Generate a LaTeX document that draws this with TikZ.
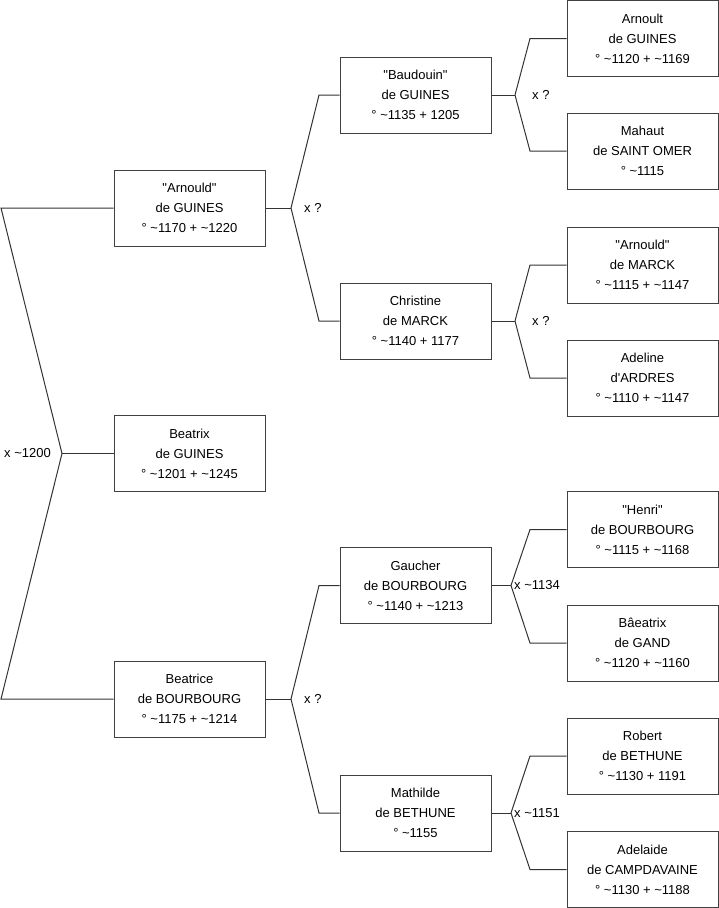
\documentclass[tikz,border=0pt]{standalone}
\usepackage{fontspec}
\setmainfont{Liberation Sans}
\usetikzlibrary{positioning}
\newcommand{\ca}{\textasciitilde}
\newcommand{\qq}[1]{\textquotedbl#1\textquotedbl}
\tikzset{
  person/.style={draw=black!75, line width=1pt, fill=white, minimum width=151pt,
                 minimum height=76pt, align=center, inner sep=0pt,
                 font=\fontsize{13}{20}\selectfont},
  link/.style={draw=black!80, line width=1pt},
  union/.style={inner sep=0pt, font=\fontsize{13}{16}\selectfont}
}
\begin{document}
\begin{tikzpicture}[x=1pt,y=-1pt]
  \useasboundingbox (0,0) rectangle (719,908);
  % Colonne 1
  \node[person] (arnouldG) at (189.5,208) {\qq{Arnould}\\de GUINES\\\textdegree{} \ca1170 + \ca1220};
  \node[person] (beatrix) at (189.5,453.5) {Beatrix\\de GUINES\\\textdegree{} \ca1201 + \ca1245};
  \node[person] (beatrice) at (189.5,699) {Beatrice\\de BOURBOURG\\\textdegree{} \ca1175 + \ca1214};
  % Colonne 2
  \node[person] (baudouin) at (415.5,95) {\qq{Baudouin}\\de GUINES\\\textdegree{} \ca1135 + 1205};
  \node[person] (christine) at (415.5,321) {Christine\\de MARCK\\\textdegree{} \ca1140 + 1177};
  \node[person] (gaucher) at (415.5,585.5) {Gaucher\\de BOURBOURG\\\textdegree{} \ca1140 + \ca1213};
  \node[person] (mathilde) at (415.5,813) {Mathilde\\de BETHUNE\\\textdegree{} \ca1155};
  % Colonne 3
  \node[person] (arnoult) at (642.5,38.5) {Arnoult\\de GUINES\\\textdegree{} \ca1120 + \ca1169};
  \node[person] (mahaut) at (642.5,151) {Mahaut\\de SAINT OMER\\\textdegree{} \ca1115};
  \node[person] (arnouldM) at (642.5,265) {\qq{Arnould}\\de MARCK\\\textdegree{} \ca1115 + \ca1147};
  \node[person] (adeline) at (642.5,378) {Adeline\\d\textquotesingle ARDRES\\\textdegree{} \ca1110 + \ca1147};
  \node[person] (henri) at (642.5,529.5) {\qq{Henri}\\de BOURBOURG\\\textdegree{} \ca1115 + \ca1168};
  \node[person] (beatrixG) at (642.5,643) {B\^{a}eatrix\\de GAND\\\textdegree{} \ca1120 + \ca1160};
  \node[person] (robert) at (642.5,756) {Robert\\de BETHUNE\\\textdegree{} \ca1130 + 1191};
  \node[person] (adelaide) at (642.5,869.5) {Adelaide\\de CAMPDAVAINE\\\textdegree{} \ca1130 + \ca1188};
  % Fourches
  \coordinate (b0) at (1,0);
  \coordinate (b1) at (319,0);
  \coordinate (b2) at (530,0);
  \coordinate (t0) at (62,453.5);
  \coordinate (t1) at (291,208);
  \coordinate (t2) at (291,699);
  \coordinate (t3) at (515,95);
  \coordinate (t4) at (515,321);
  \coordinate (t5) at (511,585.5);
  \coordinate (t6) at (511,813);
  \draw[link] (beatrix.west) -- (t0);
  \draw[link] (t0) -- (b0 |- arnouldG.west) -- (arnouldG.west);
  \draw[link] (t0) -- (b0 |- beatrice.west) -- (beatrice.west);
  \draw[link] (arnouldG.east) -- (t1);
  \draw[link] (t1) -- (b1 |- baudouin.west) -- (baudouin.west);
  \draw[link] (t1) -- (b1 |- christine.west) -- (christine.west);
  \draw[link] (beatrice.east) -- (t2);
  \draw[link] (t2) -- (b1 |- gaucher.west) -- (gaucher.west);
  \draw[link] (t2) -- (b1 |- mathilde.west) -- (mathilde.west);
  \draw[link] (baudouin.east) -- (t3);
  \draw[link] (t3) -- (b2 |- arnoult.west) -- (arnoult.west);
  \draw[link] (t3) -- (b2 |- mahaut.west) -- (mahaut.west);
  \draw[link] (christine.east) -- (t4);
  \draw[link] (t4) -- (b2 |- arnouldM.west) -- (arnouldM.west);
  \draw[link] (t4) -- (b2 |- adeline.west) -- (adeline.west);
  \draw[link] (gaucher.east) -- (t5);
  \draw[link] (t5) -- (b2 |- henri.west) -- (henri.west);
  \draw[link] (t5) -- (b2 |- beatrixG.west) -- (beatrixG.west);
  \draw[link] (mathilde.east) -- (t6);
  \draw[link] (t6) -- (b2 |- robert.west) -- (robert.west);
  \draw[link] (t6) -- (b2 |- adelaide.west) -- (adelaide.west);
  % Mariages
  \node[union, anchor=east] (u0) at (51,453.5) {x \ca1200};
  \node[union, anchor=west] (u1) at (304,208) {x ?};
  \node[union, anchor=west] (u2) at (304,699) {x ?};
  \node[union, anchor=west] (u3) at (532,95) {x ?};
  \node[union, anchor=west] (u4) at (532,321) {x ?};
  \node[union, anchor=west] (u5) at (514,585.5) {x \ca1134};
  \node[union, anchor=west] (u6) at (514,813) {x \ca1151};
\end{tikzpicture}
\end{document}
